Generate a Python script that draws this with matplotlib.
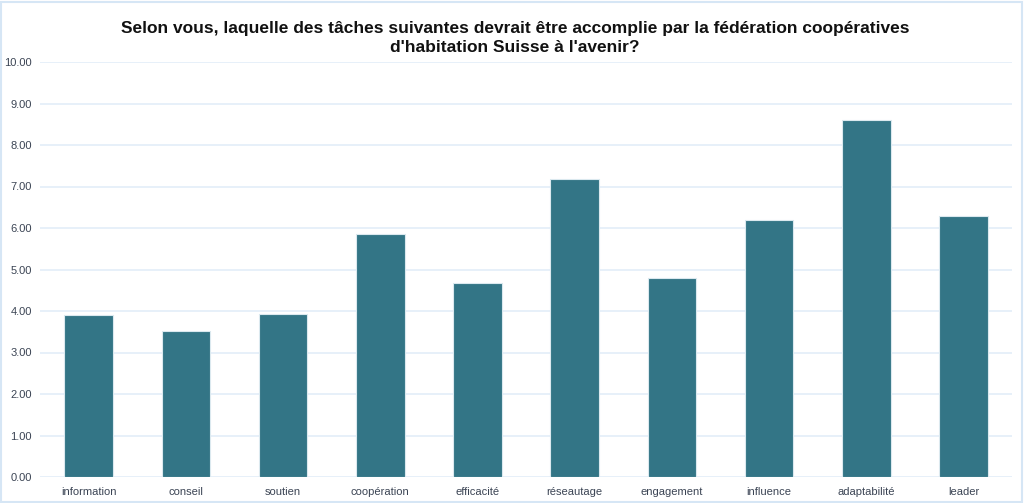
import matplotlib
matplotlib.use("Agg")
import matplotlib.pyplot as plt
from matplotlib.patches import Rectangle

categories = ["information", "conseil", "soutien", "coopération", "efficacité",
              "réseautage", "engagement", "influence", "adaptabilité", "leader"]
values = [3.90, 3.52, 3.93, 5.86, 4.67, 7.18, 4.80, 6.19, 8.61, 6.29]
yticks = [0, 1, 2, 3, 4, 5, 6, 7, 8, 9, 10]
title = ("Selon vous, laquelle des tâches suivantes devrait être accomplie par la fédération coopératives\n"
         "d'habitation Suisse à l'avenir?")

plt.rcParams['font.family'] = ['Liberation Sans', 'DejaVu Sans']

fig = plt.figure(figsize=(10.24, 5.03), dpi=100)
ax = fig.add_axes([40/1024, 1-477/503, 972/1024, 415/503])

x = list(range(len(categories)))
ax.bar(x, values, width=0.5, color="#337586", edgecolor="#dbe9ef", linewidth=0.8, zorder=3)
ax.set_xlim(-0.5, len(categories) - 0.5)
ax.set_ylim(0, 10)
ax.set_yticks(yticks)
ax.set_yticklabels([f"{v:.2f}" for v in yticks])
ax.set_xticks(x)
ax.set_xticklabels(categories)
ax.tick_params(axis='both', length=0, labelsize=8, colors="#3b4454")
ax.tick_params(axis='x', pad=7)
ax.tick_params(axis='y', pad=6)
ax.grid(axis='y', color="#e3edf8", linewidth=1.2, zorder=0)
for s in ax.spines.values():
    s.set_visible(False)

fig.text(0.503, 1-38/503, title, ha='center', va='center', fontsize=12.5,
         fontweight='bold', color="#111111", linespacing=1.25)

fig.patches.append(Rectangle((0.001, 0.002), 0.997, 0.995, transform=fig.transFigure,
                             fill=False, edgecolor="#d6e6f5", linewidth=1.5))

fig.savefig("out.png", dpi=100)
